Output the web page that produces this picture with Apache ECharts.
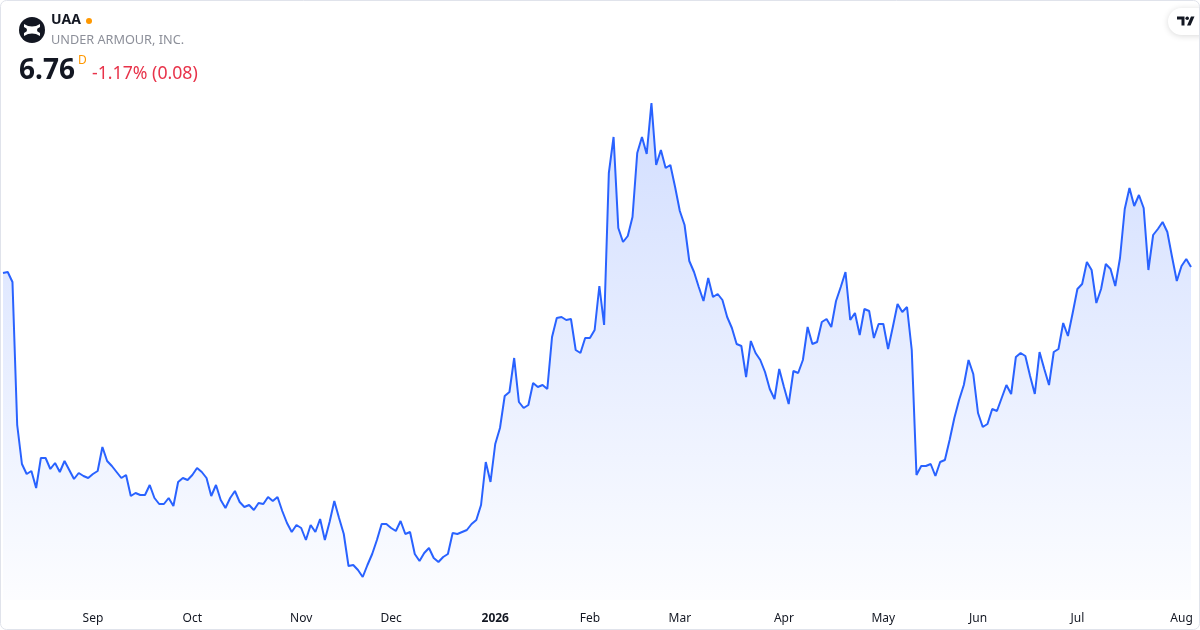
<!DOCTYPE html>
<html><head><meta charset="utf-8">
<script src="https://cdn.jsdelivr.net/npm/echarts@6/dist/echarts.min.js"></script>
<style>html,body{margin:0;padding:0;background:#fff}#c{width:1200px;height:630px}</style>
</head><body><div id="c"></div>
<script>
// Trading calendar
const startDate = '2025-08-05';
const endDate = '2026-08-05';
const holidays = ['2025-09-01','2025-11-27','2025-12-25','2026-01-01','2026-01-19','2026-02-16','2026-04-03','2026-05-25','2026-06-19','2026-07-03'];
const monthLabels = ['2026','Feb','Mar','Apr','May','Jun','Jul','Aug','Sep','Oct','Nov','Dec'];

// Daily close prices (USD)
const prices = [
6.70,6.71,6.61,5.18,4.79,4.69,4.72,4.55,4.85,4.85,4.74,4.80,4.71,4.82,4.73,4.64,4.70,4.67,4.65,4.69,
4.72,4.96,4.82,4.77,4.71,4.65,4.68,4.47,4.50,4.48,4.48,4.58,4.45,4.39,4.39,4.45,4.37,4.61,4.65,4.63,
4.68,4.75,4.71,4.65,4.47,4.58,4.43,4.35,4.45,4.52,4.41,4.36,4.38,4.33,4.40,4.39,4.46,4.42,4.46,4.32,
4.20,4.11,4.18,4.15,4.03,4.18,4.11,4.24,4.03,4.21,4.42,4.25,4.09,3.77,3.78,3.73,3.66,3.78,3.89,4.03,
4.19,4.19,4.15,4.12,4.22,4.09,4.11,3.89,3.82,3.90,3.95,3.85,3.81,3.86,3.89,4.10,4.09,4.11,4.13,4.19,
4.23,4.38,4.81,4.61,4.99,5.15,5.47,5.51,5.85,5.41,5.35,5.38,5.60,5.56,5.58,5.54,6.06,6.25,6.26,6.23,
6.24,5.93,5.90,6.05,6.05,6.13,6.57,6.18,7.70,8.06,7.15,7.01,7.07,7.26,7.90,8.06,7.89,8.40,7.78,7.93,
7.75,7.78,7.56,7.32,7.18,6.82,6.71,6.56,6.42,6.65,6.46,6.49,6.43,6.26,6.15,5.99,5.97,5.66,6.02,5.90,
5.83,5.71,5.54,5.44,5.74,5.56,5.39,5.72,5.70,5.83,6.16,5.99,6.01,6.21,6.24,6.16,6.42,6.56,6.71,6.23,
6.30,6.08,6.34,6.32,6.05,6.19,6.19,5.94,6.16,6.39,6.31,6.36,5.93,4.68,4.77,4.77,4.79,4.67,4.81,4.83,
5.03,5.25,5.43,5.58,5.83,5.69,5.30,5.16,5.19,5.34,5.32,5.45,5.58,5.49,5.86,5.90,5.87,5.67,5.49,5.91,
5.74,5.58,5.91,5.94,6.20,6.07,6.30,6.54,6.59,6.81,6.73,6.40,6.54,6.79,6.74,6.57,6.85,7.34,7.55,7.37,
7.48,7.35,6.73,7.08,7.14,7.21,7.11,6.86,6.62,6.77,6.84,6.76
];

function tradingDays(s, e, hol) {
  const out = [];
  const d = new Date(s + 'T00:00:00Z');
  const end = new Date(e + 'T00:00:00Z');
  while (d <= end) {
    const iso = d.toISOString().slice(0, 10);
    const wd = d.getUTCDay();
    if (wd !== 0 && wd !== 6 && hol.indexOf(iso) < 0) out.push(iso);
    d.setUTCDate(d.getUTCDate() + 1);
  }
  return out;
}
const dates = tradingDays(startDate, endDate, holidays);
const monthStart = dates.map((v, i) => i > 0 && v.slice(5, 7) !== dates[i - 1].slice(5, 7));

const uaShape = [[-8,-6],[-4,-4],[0,-3.6],[4,-4],[8,-6],[8,-3],[5.5,-1.5],[5,0],[5.5,1.5],[8,3],[8,6],[4,4],[0,3.6],[-4,4],[-8,6],[-8,3],[-5.5,1.5],[-5,0],[-5.5,-1.5],[-8,-3]].map(p => [p[0] + 32, p[1] + 30]);

const chart = echarts.init(document.getElementById('c'));
const FONT = '"Noto Sans", "Open Sans", sans-serif';
chart.setOption({
  animation: false,
  backgroundColor: '#ffffff',
  grid: { left: 3, right: 9, top: 60, bottom: 30 },
  xAxis: {
    type: 'category',
    data: dates,
    boundaryGap: false,
    axisLine: { show: false },
    axisTick: { show: false },
    splitLine: { show: false },
    axisLabel: {
      interval: (i) => monthStart[i],
      margin: 13,
      color: '#131722',
      fontSize: 12,
      fontFamily: FONT,
      formatter: (v) => {
        const m = parseInt(v.slice(5, 7), 10);
        return m === 1 ? '{b|' + monthLabels[0] + '}' : monthLabels[m - 1];
      },
      rich: { b: { fontWeight: 'bold', fontSize: 12, color: '#131722', fontFamily: FONT } }
    }
  },
  yAxis: {
    type: 'value',
    min: 3.43,
    max: 8.83,
    show: false,
    splitLine: { show: false }
  },
  series: [{
    type: 'line',
    data: prices,
    showSymbol: false,
    symbol: 'none',
    lineStyle: { color: '#2962ff', width: 2 },
    areaStyle: {
      origin: 'start',
      color: { type: 'linear', x: 0, y: 0, x2: 0, y2: 1, colorStops: [
        { offset: 0, color: 'rgba(41,98,255,0.30)' },
        { offset: 1, color: 'rgba(41,98,255,0.02)' }
      ] }
    }
  }],
  graphic: [
    { type: 'rect', shape: { x: 0.5, y: 0.5, width: 1199, height: 629, r: 6 }, style: { fill: 'none', stroke: '#e0e3eb', lineWidth: 1 }, z: 100, silent: true },
    { type: 'circle', shape: { cx: 32, cy: 30, r: 13 }, style: { fill: '#131722' }, z: 50 },
    { type: 'polygon', shape: { points: uaShape }, style: { fill: '#ffffff' }, z: 51 },
    { type: 'text', x: 51, y: 20, style: { text: 'UAA', fill: '#131722', font: 'bold 14px ' + FONT, verticalAlign: 'middle' }, z: 50 },
    { type: 'circle', shape: { cx: 89, cy: 21, r: 3 }, style: { fill: '#ff9800' }, z: 50 },
    { type: 'text', x: 51, y: 40, style: { text: 'UNDER ARMOUR, INC.', fill: '#8c8f99', font: '12.7px ' + FONT, verticalAlign: 'middle' }, z: 50 },
    { type: 'text', x: 19, y: 71, style: { text: '6.76', fill: '#131722', font: 'bold 28px ' + FONT, verticalAlign: 'middle' }, z: 50 },
    { type: 'text', x: 78, y: 61, style: { text: 'D', fill: '#ff9800', font: '12px ' + FONT, verticalAlign: 'middle' }, z: 50 },
    { type: 'text', x: 92, y: 74, style: { text: '-1.17% (0.08)', fill: '#e8334a', font: '17.7px ' + FONT, verticalAlign: 'middle' }, z: 50 },
    { type: 'rect', shape: { x: 1168, y: 8, width: 44, height: 27, r: 13.5 }, style: { fill: '#ffffff', shadowBlur: 6, shadowColor: 'rgba(0,0,0,0.15)', shadowOffsetY: 1 }, z: 60 },
    { type: 'polygon', shape: { points: [[1177,16.5],[1184.5,16.5],[1184.5,25.5],[1181.5,25.5],[1181.5,19.5],[1177,19.5]] }, style: { fill: '#131722' }, z: 61 },
    { type: 'polygon', shape: { points: [[1191,16.5],[1194.5,16.5],[1190.5,25.5],[1187,25.5]] }, style: { fill: '#131722' }, z: 61 },
    { type: 'circle', shape: { cx: 1187.2, cy: 18.3, r: 1.8 }, style: { fill: '#131722' }, z: 61 }
  ]
});
</script></body></html>
